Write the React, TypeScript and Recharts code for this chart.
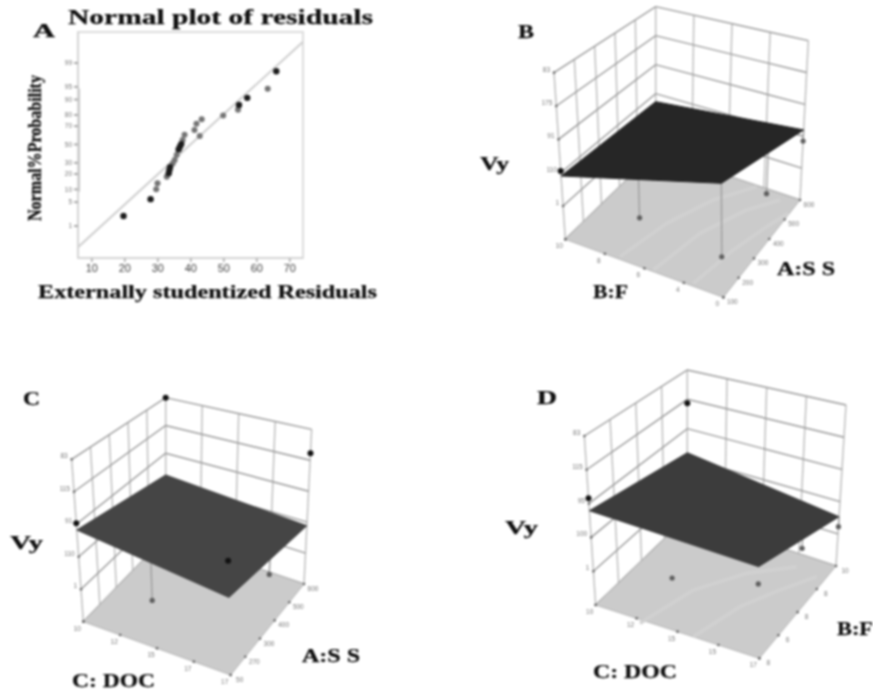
import React from "react";
import { ComposedChart, Line, Area, Scatter, XAxis, YAxis, ReferenceArea } from "recharts";

// ---------- Panel A data ----------
const residualTicks = [10, 20, 30, 40, 50, 60, 70];
const probabilityLabels = ["99", "95", "90", "80", "70", "50", "30", "20", "10", "5", "1"];
const probabilityQuantiles = [2.326, 1.645, 1.282, 0.842, 0.524, 0, -0.524, -0.842, -1.282, -1.645, -2.326];
const darkResiduals = [19.6, 27.8, 33.3, 33.5, 33.7, 36.3, 36.7, 37.1, 54.6, 57.1, 65.9];
const darkQuantiles = [-2.04, -1.56, -0.82, -0.73, -0.65, -0.14, -0.06, 0.01, 1.13, 1.33, 2.09];
const greyResiduals = [29.5, 29.9, 32.7, 34.5, 35.1, 35.7, 37.5, 38.1, 41.1, 41.7, 43.3, 42.7, 49.8, 54.3, 63.3];
const greyQuantiles = [-1.28, -1.11, -0.92, -0.54, -0.44, -0.3, 0.13, 0.28, 0.41, 0.59, 0.72, 0.24, 0.83, 0.99, 1.59];
const fitResiduals = [5.8, 74];
const fitQuantiles = [-2.93, 2.93];

// ---------- Surface panels data: fractions of each axis ----------
type Pin = { f1: number; f2: number; vy: number; dark: boolean; stem: boolean };
const surfaceB = [0.38, 0.63, 0.44, 0.345];
const surfaceC = [0.565, 0.436, 0.377, 0.444];
const surfaceD = [0.558, 0.5, 0.306, 0.436];
const pinsB: Pin[] = [
  { f1: 0, f2: 0, vy: 0.41, dark: true, stem: false },
  { f1: 0.25, f2: 0.4, vy: 0, dark: false, stem: true },
  { f1: 0.83, f2: 0.32, vy: 0, dark: false, stem: true },
  { f1: 0.79, f2: 0.96, vy: 0, dark: false, stem: true },
  { f1: 1, f2: 1, vy: 0.37, dark: false, stem: true },
];
const pinsC: Pin[] = [
  { f1: 0, f2: 1, vy: 1, dark: true, stem: false },
  { f1: 1, f2: 1, vy: 0.845, dark: true, stem: false },
  { f1: 0, f2: 0, vy: 0.606, dark: true, stem: false },
  { f1: 1, f2: 0, vy: 0.642, dark: true, stem: false },
  { f1: 0.76, f2: 0.98, vy: 0, dark: false, stem: true },
  { f1: 0.25, f2: 0.4, vy: 0, dark: false, stem: true },
];
const pinsD: Pin[] = [
  { f1: 0, f2: 1, vy: 0.773, dark: true, stem: false },
  { f1: 0, f2: 0, vy: 0.631, dark: true, stem: false },
  { f1: 1, f2: 1, vy: 0.244, dark: false, stem: true },
  { f1: 0.77, f2: 1, vy: 0.04, dark: false, stem: true },
  { f1: 0.23, f2: 0.44, vy: 0, dark: false, stem: false },
  { f1: 0.68, f2: 0.63, vy: 0, dark: false, stem: false },
];
const feedTicksB = ["10", "8", "6", "4", "0"];
const speedTicksB = ["100", "200", "300", "400", "500", "600"];
const vyTicksB = ["", "1", "110", "91", "175", "83"];
const docTicksC = ["10", "12", "15", "17", "17"];
const speedTicksC = ["50", "270", "300", "400", "500", "600"];
const vyTicksC = ["", "1", "110", "91", "115", "83"];
const docTicksD = ["10", "12", "15", "15", "17"];
const feedTicksD = ["8", "6", "8", "8", "10"];
const vyTicksD = ["", "1", "100", "95", "115", "83"];

// ---------- Layout of the perspective boxes (drawn via hidden number axes) ----------
type P = { x: number; y: number };
type Box = { L: P; F: P; R: P; K: P; TL: P; TR: P; TK: P };
const pt = (x: number, y: number): P => ({ x, y });
const boxB: Box = { L: pt(256, 718), F: pt(730, 892), R: pt(960, 600), K: pt(527, 455), TL: pt(222, 218), TR: pt(985, 122), TK: pt(527, 20) };
const boxC: Box = { L: pt(250, 785), F: pt(692, 945), R: pt(912, 672), K: pt(497, 530), TL: pt(215, 298), TR: pt(935, 208), TK: pt(497, 113) };
const boxD: Box = { L: pt(347, 735), F: pt(838, 895), R: pt(1068, 618), K: pt(622, 470), TL: pt(313, 228), TR: pt(1098, 135), TK: pt(622, 30) };

const bilerp = (a: P, b: P, c: P, d: P, u: number, v: number): P => ({
  x: (1 - u) * (1 - v) * a.x + u * (1 - v) * b.x + u * v * c.x + (1 - u) * v * d.x,
  y: (1 - u) * (1 - v) * a.y + u * (1 - v) * b.y + u * v * c.y + (1 - u) * v * d.y,
});
function projector(box: Box) {
  const TF = pt(
    box.F.x + (box.TL.x - box.L.x) + (box.TR.x - box.R.x) - (box.TK.x - box.K.x),
    box.F.y + (box.TL.y - box.L.y) + (box.TR.y - box.R.y) - (box.TK.y - box.K.y)
  );
  return (u: number, v: number, w: number): P => {
    const lo = bilerp(box.L, box.F, box.R, box.K, u, v);
    const hi = bilerp(box.TL, TF, box.TR, box.TK, u, v);
    return { x: lo.x + w * (hi.x - lo.x), y: lo.y + w * (hi.y - lo.y) };
  };
}
function quadArea(q: P[]) {
  const xs = q.map((p) => p.x).sort((a, b) => a - b);
  return xs.map((x) => {
    const ys: number[] = [];
    q.forEach((a, j) => {
      const b = q[(j + 1) % q.length];
      const mn = Math.min(a.x, b.x);
      const mx = Math.max(a.x, b.x);
      if (x >= mn && x <= mx) {
        if (a.x === b.x) ys.push(a.y, b.y);
        else ys.push(a.y + ((x - a.x) / (b.x - a.x)) * (b.y - a.y));
      }
    });
    return { x, range: [Math.min(...ys), Math.max(...ys)] };
  });
}

const SERIF = "'Liberation Serif', 'DejaVu Serif', serif";
const SANS = "'Liberation Sans', sans-serif";

const tickShape = (dx: number, dy: number, anchor: string, size: number) => (p: any) => (
  <g>
    <circle cx={p.cx} cy={p.cy} r={1.3} fill="#666" />
    <text x={p.cx + dx} y={p.cy + dy} fontSize={size} fill="#777" textAnchor={anchor} fontFamily={SANS}>
      {p.payload.label}
    </text>
  </g>
);

function SurfacePanel(props: {
  left: number; top: number; width: number; height: number; box: Box;
  f1Ticks: string[]; f2Ticks: string[]; vyTicks: string[]; leftCols: number;
  surface: number[]; surfaceFill: string; pins: Pin[]; bands: P[][];
}) {
  const { left, top, width, height, box, f1Ticks, f2Ticks, vyTicks, leftCols, surface, surfaceFill, pins, bands } = props;
  const proj = projector(box);
  const levels: P[][] = [];
  for (let i = 0; i <= 5; i++) {
    const w = i / 5;
    levels.push([proj(0, 0, w), proj(0, 1, w), proj(1, 1, w)]);
  }
  const columns: P[][] = [];
  for (let i = 0; i <= leftCols; i++) columns.push([proj(0, i / leftCols, 0), proj(0, i / leftCols, 1)]);
  for (let i = 1; i <= 4; i++) columns.push([proj(i / 4, 1, 0), proj(i / 4, 1, 1)]);
  const floor = quadArea([box.L, box.F, box.R, box.K]);
  const sPts = [proj(0, 0, surface[0]), proj(1, 0, surface[1]), proj(1, 1, surface[2]), proj(0, 1, surface[3])];
  const surf = quadArea(sPts);
  const surfW = (u: number, v: number) =>
    (1 - u) * (1 - v) * surface[0] + u * (1 - v) * surface[1] + u * v * surface[2] + (1 - u) * v * surface[3];
  const stems = pins.filter((p) => p.stem).map((p) => [proj(p.f1, p.f2, p.vy), proj(p.f1, p.f2, surfW(p.f1, p.f2))]);
  const f1Data = f1Ticks.map((label, i) => ({ ...proj(i / (f1Ticks.length - 1), 0, 0), label }));
  const f2Data = f2Ticks.map((label, i) => ({ ...proj(1, i / (f2Ticks.length - 1), 0), label }));
  const vyData = vyTicks.map((label, i) => ({ ...proj(0, 0, i / 5), label }));
  const darkPins = pins.filter((p) => p.dark).map((p) => proj(p.f1, p.f2, p.vy));
  const greyPins = pins.filter((p) => !p.dark).map((p) => proj(p.f1, p.f2, p.vy));
  const layer = (children: React.ReactNode) => (
    <div style={{ position: "absolute", left: 0, top: 0 }}>
      <ComposedChart width={width} height={height} margin={{ left: 0, right: 0, top: 0, bottom: 0 }}>
        <XAxis dataKey="x" type="number" hide domain={[0, width * 3]} allowDataOverflow />
        <YAxis type="number" hide reversed domain={[0, height * 3]} allowDataOverflow width={0} />
        {children}
      </ComposedChart>
    </div>
  );
  return (
    <div style={{ position: "absolute", left, top, width, height }}>
      {layer(columns.map((d, i) => (
        <Line key={"c" + i} data={d} dataKey="y" stroke="#bcbcbc" strokeWidth={1.4} dot={false} activeDot={false} isAnimationActive={false} />
      )))}
      {layer(levels.map((d, i) => (
        <Line key={"l" + i} data={d} dataKey="y" stroke="#999" strokeWidth={1.4} dot={false} activeDot={false} isAnimationActive={false} />
      )))}
      {layer(<Area data={floor} dataKey="range" type="linear" fill="#cbcbcb" fillOpacity={1} stroke="#b5b5b5" strokeWidth={1} dot={false} activeDot={false} isAnimationActive={false} />)}
      {layer(bands.map((b, i) => (
        <Line key={"b" + i} data={b} dataKey="y" stroke="#d1d1d1" strokeWidth={3.5} dot={false} activeDot={false} isAnimationActive={false} />
      )))}
      {layer(stems.map((d, i) => (
        <Line key={"s" + i} data={d} dataKey="y" stroke="#9a9a9a" strokeWidth={1.3} dot={false} activeDot={false} isAnimationActive={false} />
      )))}
      {layer(<Area data={surf} dataKey="range" type="linear" fill={surfaceFill} fillOpacity={1} stroke={surfaceFill} strokeWidth={1} dot={false} activeDot={false} isAnimationActive={false} />)}
      {layer([
        <Scatter key="f1" data={f1Data} dataKey="y" isAnimationActive={false} shape={tickShape(-6, 9, "middle", 6.5)} />,
        <Scatter key="f2" data={f2Data} dataKey="y" isAnimationActive={false} shape={tickShape(9, 7, "middle", 6.5)} />,
        <Scatter key="vy" data={vyData} dataKey="y" isAnimationActive={false} shape={tickShape(-4, -1, "end", 6.5)} />,
        <Scatter key="gp" data={greyPins} dataKey="y" isAnimationActive={false} shape={(p: any) => <circle cx={p.cx} cy={p.cy} r={2.6} fill="#5e5e5e" />} />,
        <Scatter key="dp" data={darkPins} dataKey="y" isAnimationActive={false} shape={(p: any) => <circle cx={p.cx} cy={p.cy} r={3} fill="#111" />} />,
      ])}
    </div>
  );
}

function ResidualsPanel() {
  const dark = darkResiduals.map((x, i) => ({ x, y: darkQuantiles[i] }));
  const grey = greyResiduals.map((x, i) => ({ x, y: greyQuantiles[i] }));
  const fit = fitResiduals.map((x, i) => ({ x, y: fitQuantiles[i] }));
  const rug = [{ x: 5.9, y: -1.35 }, { x: 5.9, y: 1.6 }];
  return (
    <div style={{ position: "absolute", left: 0, top: 0, width: 330, height: 290 }}>
      <ComposedChart width={330} height={290} margin={{ left: 53, right: 27, top: 32, bottom: 12 }}>
        <XAxis
          dataKey="x" type="number" domain={[5.8, 74]} ticks={residualTicks} height={20} allowDataOverflow
          tick={{ fontSize: 11, fill: "#3e3e3e", fontFamily: SANS }} stroke="#d4d4d4" strokeWidth={2}
          tickLine={{ stroke: "#bbb" }} tickSize={4}
        />
        <YAxis
          type="number" domain={[-3.24, 3.21]} ticks={probabilityQuantiles} width={25} allowDataOverflow interval={0}
          tickFormatter={(v: number) => probabilityLabels[probabilityQuantiles.indexOf(v)]}
          tick={{ fontSize: 6.5, fill: "#777", fontFamily: SANS }} stroke="#d4d4d4" strokeWidth={2}
          tickLine={{ stroke: "#aaa" }} tickSize={4}
        />
        <ReferenceArea x1={5.8} x2={74} y1={-3.24} y2={3.21} fill="none" stroke="#dcdcdc" strokeWidth={2} />
        <Line data={rug} dataKey="y" stroke="#b4b4b4" strokeWidth={3} dot={false} activeDot={false} isAnimationActive={false} />
        <Line data={fit} dataKey="y" stroke="#cfcfcf" strokeWidth={2} dot={false} activeDot={false} isAnimationActive={false} />
        <Scatter data={grey} dataKey="y" isAnimationActive={false} shape={(p: any) => <circle cx={p.cx} cy={p.cy} r={3} fill="#747474" />} />
        <Scatter data={dark} dataKey="y" isAnimationActive={false} shape={(p: any) => <circle cx={p.cx} cy={p.cy} r={3.2} fill="#1c1c1c" />} />
      </ComposedChart>
    </div>
  );
}

function Caption(p: { x: number; y: number; w: number; size?: number; children: string }) {
  return (
    <text x={p.x} y={p.y} textLength={p.w} lengthAdjust="spacingAndGlyphs" fontSize={p.size ?? 18} fontWeight="bold" fontFamily={SERIF} fill="#0e0e0e" stroke="#0e0e0e" strokeWidth={0.25}>
      {p.children}
    </text>
  );
}

const bandsB: P[][] = [
  [pt(420, 770), pt(560, 670), pt(700, 600), pt(830, 560)],
  [pt(520, 810), pt(660, 700), pt(800, 630), pt(900, 600)],
  [pt(640, 850), pt(760, 750), pt(860, 680), pt(925, 640)],
];
const bandsD: P[][] = [
  [pt(480, 790), pt(640, 690), pt(800, 640), pt(950, 620)],
  [pt(640, 830), pt(780, 740), pt(900, 690), pt(1010, 650)],
];

export default function App() {
  return (
    <div style={{ position: "absolute", left: 0, top: 0, width: 873, height: 690, overflow: "hidden", background: "#fff", filter: "blur(0.8px)" }}>
      <ResidualsPanel />
      <SurfacePanel left={480} top={0} width={393} height={320} box={boxB} f1Ticks={feedTicksB} f2Ticks={speedTicksB} vyTicks={vyTicksB} leftCols={5} surface={surfaceB} surfaceFill="#262626" pins={pinsB} bands={bandsB} />
      <SurfacePanel left={0} top={360} width={400} height={330} box={boxC} f1Ticks={docTicksC} f2Ticks={speedTicksC} vyTicks={vyTicksC} leftCols={5} surface={surfaceC} surfaceFill="#454545" pins={pinsC} bands={[]} />
      <SurfacePanel left={480} top={360} width={393} height={330} box={boxD} f1Ticks={docTicksD} f2Ticks={feedTicksD} vyTicks={vyTicksD} leftCols={4} surface={surfaceD} surfaceFill="#3c3c3c" pins={pinsD} bands={bandsD} />
      <svg width={873} height={690} style={{ position: "absolute", left: 0, top: 0, pointerEvents: "none" }}>
        <Caption x={33} y={37} w={22}>A</Caption>
        <Caption x={68} y={24} w={305} size={21}>Normal plot of residuals</Caption>
        <Caption x={38} y={298} w={339} size={18}>Externally studentized Residuals</Caption>
        <g transform="translate(41,221) rotate(-90)">
          <Caption x={0} y={0} w={146} size={18}>Normal%Probability</Caption>
        </g>
        <Caption x={518} y={38} w={16}>B</Caption>
        <Caption x={480} y={170} w={29}>Vy</Caption>
        <Caption x={777} y={275} w={58}>A:S S</Caption>
        <Caption x={593} y={298} w={35}>B:F</Caption>
        <Caption x={23} y={405} w={17}>C</Caption>
        <Caption x={10} y={549} w={33}>Vy</Caption>
        <Caption x={302} y={662} w={58}>A:S S</Caption>
        <Caption x={72} y={687} w={83}>C: DOC</Caption>
        <Caption x={537} y={404} w={20}>D</Caption>
        <Caption x={505} y={534} w={33}>Vy</Caption>
        <Caption x={837} y={635} w={36}>B:F</Caption>
        <Caption x={593} y={678} w={84}>C: DOC</Caption>
      </svg>
    </div>
  );
}
